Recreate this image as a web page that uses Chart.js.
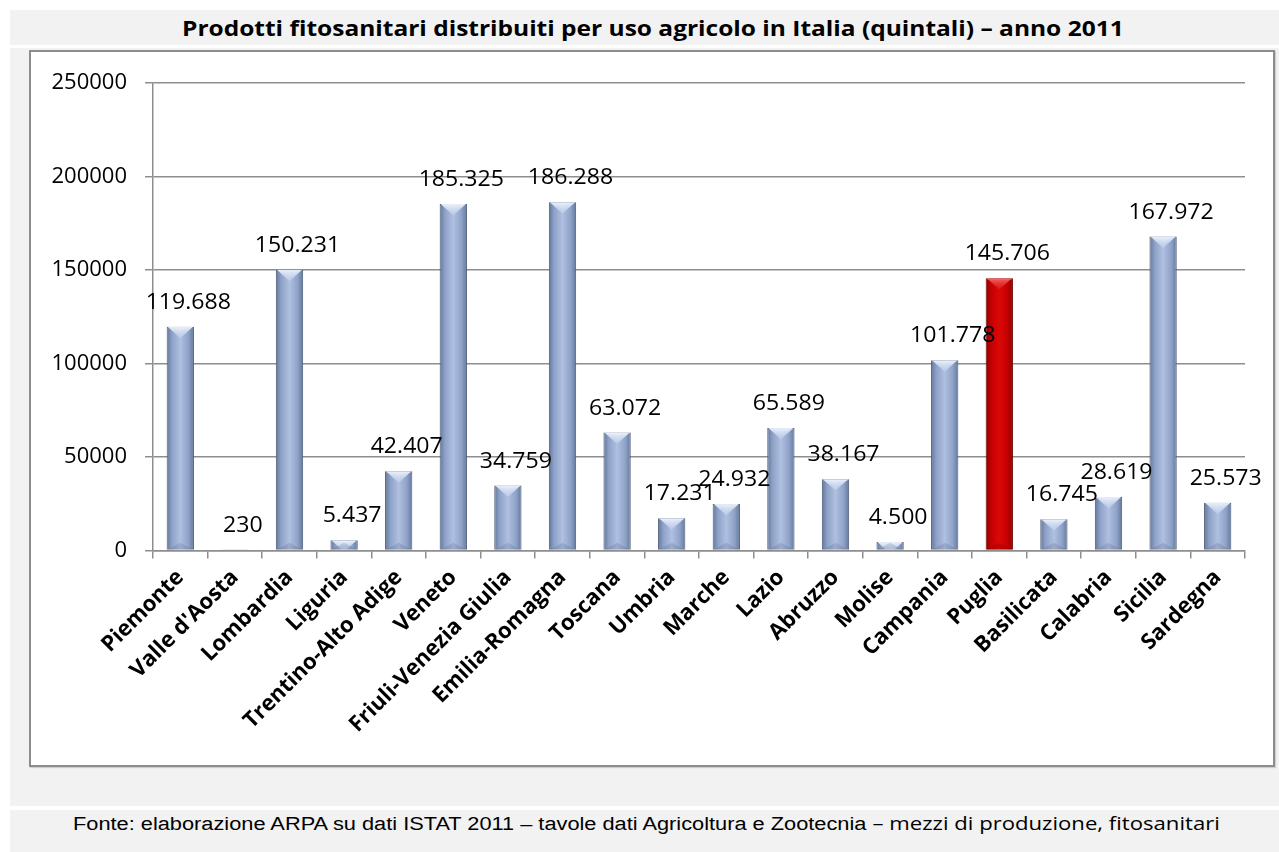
<!DOCTYPE html>
<html>
<head>
<meta charset="utf-8">
<script src="https://cdn.jsdelivr.net/npm/chart.js@4.4.1/dist/chart.umd.min.js"></script>
<style>
  html, body { margin: 0; padding: 0; background: #ffffff; width: 1279px; height: 852px; overflow: hidden; }
  #titleBand { position: absolute; left: 10px; top: 10px; width: 1269px; height: 35px; background: #f2f2f2; }
  #titleText { position: absolute; left: 172px; top: 1px; line-height: 35px; white-space: nowrap;
    font-family: "Open Sans", sans-serif; font-weight: bold; font-size: 20.5px; color: #000;
    transform: scaleX(1.195); transform-origin: 0 50%; }
  #panel { position: absolute; left: 10px; top: 48px; width: 1269px; height: 758px; background: #f2f2f2; }
  #box { position: absolute; left: 29px; top: 50px; width: 1242px; height: 713px; background: #fff;
    border: 2px solid #8c8c8c; box-shadow: 1px 1px 1px rgba(0,0,0,0.15); }
  #box canvas { position: absolute; left: 0; top: 0; }
  #footer { position: absolute; left: 10px; top: 810px; width: 1269px; height: 42px; background: #f2f2f2; }
  #footerText { position: absolute; left: 63px; top: 0; line-height: 26px; white-space: nowrap;
    transform: scaleX(1.21); transform-origin: 0 50%; }
  #footerText .a { font-family: "Liberation Sans", Arial, sans-serif; font-size: 18px; }
  #footerText .b { font-family: "Open Sans", sans-serif; font-size: 18.3px; }
</style>
</head>
<body>
<div id="titleBand"><span id="titleText">Prodotti fitosanitari distribuiti per uso agricolo in Italia (quintali) – anno 2011</span></div>
<div id="panel"></div>
<div id="box"><canvas id="c" width="1242" height="713"></canvas></div>
<div id="footer"><span id="footerText"><span class="a">Fonte: elaborazione ARPA su dati ISTAT 2011 – tavole dati Agricoltura e Zootecnia </span><span class="b">– mezzi di produzione, fitosanitari</span></span></div>
<script>
// ---- data ----
const regions = ["Piemonte", "Valle d'Aosta", "Lombardia", "Liguria", "Trentino-Alto Adige", "Veneto",
  "Friuli-Venezia Giulia", "Emilia-Romagna", "Toscana", "Umbria", "Marche", "Lazio", "Abruzzo",
  "Molise", "Campania", "Puglia", "Basilicata", "Calabria", "Sicilia", "Sardegna"];
const quintali = [119688, 230, 150231, 5437, 42407, 185325, 34759, 186288, 63072, 17231, 24932,
  65589, 38167, 4500, 101778, 145706, 16745, 28619, 167972, 25573];
const highlighted = ["Puglia"];
const yTicks = [0, 50000, 100000, 150000, 200000, 250000];

function fmtIt(v) { return String(v).replace(/\B(?=(\d{3})+(?!\d))/g, '.'); }

const BAR_PCT = 0.5;
function barFill(ctx) {
  const chart = ctx.chart;
  const xs = chart.scales.x;
  const isRed = highlighted.includes(regions[ctx.dataIndex]);
  const stops = isRed
    ? ['#880000', '#c40000', '#dc0808', '#c40000', '#880000']
    : ['#63769c', '#8fa2c7', '#afc0e1', '#8fa2c7', '#63769c'];
  if (!xs || !isFinite(xs.left) || !isFinite(xs.width) || xs.width <= 0) return stops[2];
  const cx = xs.getPixelForValue(ctx.dataIndex);
  const w = xs.width / regions.length * BAR_PCT;
  const g = chart.ctx.createLinearGradient(cx - w / 2, 0, cx + w / 2, 0);
  g.addColorStop(0, stops[0]);
  g.addColorStop(0.2, stops[1]);
  g.addColorStop(0.5, stops[2]);
  g.addColorStop(0.8, stops[3]);
  g.addColorStop(1, stops[4]);
  return g;
}

const bevelAndLabels = {
  id: 'bevelAndLabels',
  afterDatasetsDraw(chart) {
    const ctx = chart.ctx;
    const meta = chart.getDatasetMeta(0);
    meta.data.forEach((bar, i) => {
      const p = bar.getProps(['x', 'y', 'base', 'width'], true);
      const l = p.x - p.width / 2, r = p.x + p.width / 2;
      const top = Math.min(p.y, p.base), bot = Math.max(p.y, p.base);
      const isRed = highlighted.includes(regions[i]);
      ctx.save();
      ctx.beginPath();
      ctx.rect(l, top, r - l, bot - top);
      ctx.clip();
      const h = p.width * 0.42;
      const g = ctx.createLinearGradient(0, top, 0, top + h);
      g.addColorStop(0, isRed ? 'rgba(255,110,110,0.9)' : 'rgba(238,244,255,0.97)');
      g.addColorStop(1, isRed ? 'rgba(220,40,40,0.4)' : 'rgba(200,214,240,0.45)');
      ctx.beginPath();
      ctx.moveTo(l + 1, top);
      ctx.lineTo(r - 1, top);
      ctx.lineTo(p.x, top + h);
      ctx.closePath();
      ctx.fillStyle = g;
      ctx.fill();
      ctx.beginPath();
      ctx.moveTo(l + 1, bot);
      ctx.lineTo(r - 1, bot);
      ctx.lineTo(p.x, bot - h * 0.6);
      ctx.closePath();
      ctx.fillStyle = isRed ? 'rgba(110,0,0,0.25)' : 'rgba(60,75,105,0.18)';
      ctx.fill();
      ctx.restore();
      // value label
      ctx.save();
      ctx.translate(p.x + 8, top - 24);
      ctx.scale(1.1, 1);
      ctx.font = '21px "Open Sans", sans-serif';
      ctx.fillStyle = '#000';
      ctx.textAlign = 'center';
      ctx.textBaseline = 'middle';
      ctx.fillText(fmtIt(quintali[i]), 0, 0);
      ctx.restore();
    });
  }
};

const GRID = '#8e8e8e';
new Chart(document.getElementById('c'), {
  type: 'bar',
  data: {
    labels: regions,
    datasets: [{
      data: quintali,
      backgroundColor: barFill,
      borderColor: (ctx) => highlighted.includes(regions[ctx.dataIndex]) ? '#6e0000' : '#4f5d78',
      borderWidth: 1,
      barPercentage: BAR_PCT,
      categoryPercentage: 1.0
    }]
  },
  options: {
    responsive: false,
    animation: false,
    events: [],
    layout: { padding: { top: 28, right: 28, left: 0, bottom: 0 } },
    plugins: { legend: { display: false }, tooltip: { enabled: false }, title: { display: false } },
    scales: {
      y: {
        min: 0, max: 250000,
        afterBuildTicks(scale) { scale.ticks = yTicks.map(v => ({ value: v })); },
        afterFit(scale) { scale.width = 122; },
        ticks: {
          padding: 18,
          color: '#000',
          font: { family: '"Open Sans", sans-serif', size: 22 },
          callback: (v) => String(v)
        },
        grid: { color: GRID, lineWidth: 1.5, tickLength: 8, drawTicks: true },
        border: { display: true, color: GRID, width: 1.5 }
      },
      x: {
        afterFit(scale) { scale.height = 214.5; },
        ticks: {
          minRotation: 45, maxRotation: 45, autoSkip: false,
          padding: 6,
          color: '#000',
          font: { family: '"Open Sans", sans-serif', size: 22, weight: 'bold' }
        },
        grid: { display: true, drawOnChartArea: false, offset: true, color: GRID, lineWidth: 1.5, tickLength: 8 },
        border: { display: true, color: GRID, width: 1.5 }
      }
    }
  },
  plugins: [bevelAndLabels]
});
</script>
</body>
</html>
